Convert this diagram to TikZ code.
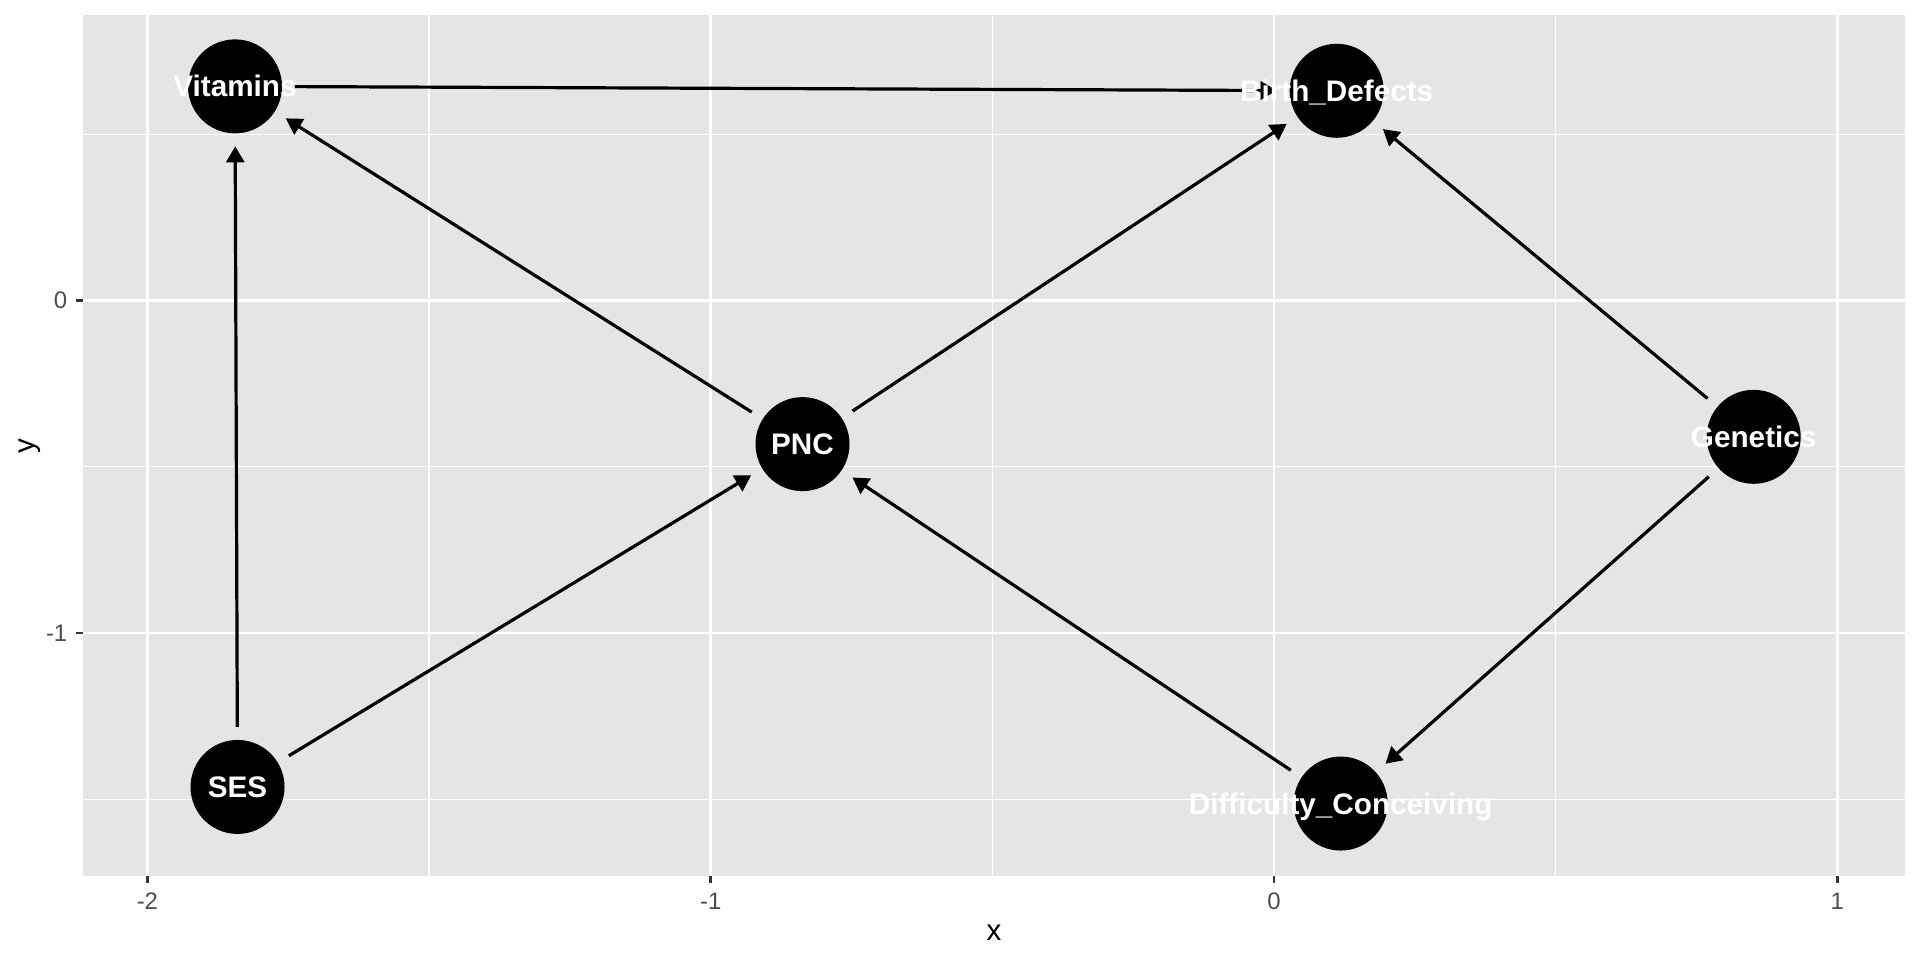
\documentclass[tikz,border=0pt]{standalone}
\usepackage{fontspec}
\setmainfont{Liberation Sans}
\usepackage{xcolor}
\usepackage{tikz}
\usetikzlibrary{arrows.meta}

\begin{document}
\begin{tikzpicture}[
  x=56.33mm, y=33.25mm,
  >={Triangle[length=1.6mm, width=1.8mm]},
  dot/.style={circle, fill=black, draw=none, minimum size=9.4mm,
    inner sep=0pt, outer sep=1.3mm},
  vlabel/.style={font=\fontsize{8.45}{9}\selectfont\bfseries, text=white,
    anchor=base, yshift=-3pt, inner sep=0pt},
  dagedge/.style={->, line width=.32mm, draw=black},
  majorgrid/.style={draw=white, line width=.27mm},
  minorgrid/.style={draw=white, line width=.14mm},
  axistick/.style={draw=ggtick, line width=.27mm},
  ticklabel/.style={font=\fontsize{6.8}{8}\selectfont, text=ggtext, inner sep=0pt},
  axistitle/.style={font=\fontsize{8.4}{10}\selectfont, inner sep=0pt}
]
\definecolor{panelgray}{HTML}{E5E5E5}
\definecolor{ggtick}{HTML}{333333}
\definecolor{ggtext}{HTML}{4D4D4D}

% Page and panel
\useasboundingbox (-2.2617,-1.9835) rectangle (1.1468,0.9038);
\fill[white] (-2.2617,-1.9835) rectangle (1.1468,0.9038);
\fill[panelgray] (-2.1143,-1.7308) rectangle (1.1202,0.8586);

% Grid
\foreach \gx in {-1.5,-0.5,0.5}
  \draw[minorgrid] (\gx,-1.7308) -- (\gx,0.8586);
\foreach \gy in {-1.5,-0.5,0.5}
  \draw[minorgrid] (-2.1143,\gy) -- (1.1202,\gy);
\foreach \gx in {-2,-1,0,1}
  \draw[majorgrid] (\gx,-1.7308) -- (\gx,0.8586);
\foreach \gy in {-1,0}
  \draw[majorgrid] (-2.1143,\gy) -- (1.1202,\gy);

% Axes
\foreach \gx in {-2,-1,0,1} {
  \draw[axistick] (\gx,-1.7308) -- ++(0,-0.7mm);
  \node[ticklabel, anchor=north] at (\gx,-1.779) {\gx};
}
\foreach \gy in {-1,0} {
  \draw[axistick] (-2.1143,\gy) -- ++(-0.7mm,0);
  \node[ticklabel, anchor=east] at (-2.141,\gy) {\gy};
}
\node[axistitle] (xtitle) at (-0.497,-1.9008) {x};
\node[axistitle, rotate=90] (ytitle) at (-2.2084,-0.4376) {y};

% DAG nodes
\node[dot] (vitamins) at (-1.8445,0.644) {};
\node[dot] (defects) at (0.1113,0.6307) {};
\node[dot] (pnc) at (-0.837,-0.432) {};
\node[dot] (genetics) at (0.8516,-0.410) {};
\node[dot] (ses) at (-1.840,-1.463) {};
\node[dot] (conceiving) at (0.1184,-1.513) {};

% DAG edges
\draw[dagedge] (ses) -- (vitamins);
\draw[dagedge] (ses) -- (pnc);
\draw[dagedge] (pnc) -- (vitamins);
\draw[dagedge] (pnc) -- (defects);
\draw[dagedge] (vitamins) -- (defects);
\draw[dagedge] (genetics) -- (defects);
\draw[dagedge] (genetics) -- (conceiving);
\draw[dagedge] (conceiving) -- (pnc);

% Labels on top
\node[vlabel] (vitaminstext) at (vitamins) {Vitamins};
\node[vlabel] (defectstext) at (defects) {Birth\_Defects};
\node[vlabel] (pnctext) at (pnc) {PNC};
\node[vlabel] (geneticstext) at (genetics) {Genetics};
\node[vlabel] (sestext) at (ses) {SES};
\node[vlabel] (conceivingtext) at (conceiving) {Difficulty\_Conceiving};
\end{tikzpicture}
\end{document}
